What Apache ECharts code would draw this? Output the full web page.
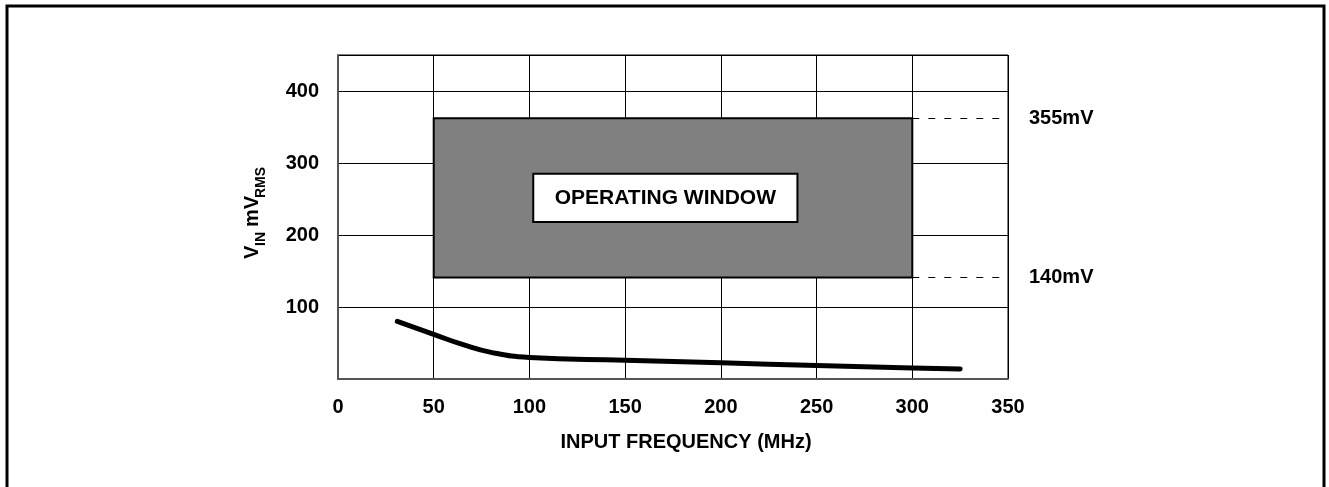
<!DOCTYPE html>
<html>
<head>
<meta charset="utf-8">
<script src="https://cdn.jsdelivr.net/npm/echarts@6/dist/echarts.min.js"></script>
<style>
html,body{margin:0;padding:0;background:#fff;}
#chart{width:1329px;height:487px;}
</style>
</head>
<body>
<div id="chart"></div>
<script>
// ---- data ----
const freqMHz = [31, 50, 65, 80, 100, 150, 200, 250, 300, 325];
const vinMv   = [80, 62, 48, 37, 30, 26.2, 22.4, 18.7, 15.4, 14];
const windowFreq = [50, 300];         // operating window, MHz
const windowVin  = [141, 362];        // operating window, mV (as drawn)
const windowLabels = ['140mV', '355mV'];
const windowTitle = 'OPERATING WINDOW';
const titleBoxFreq = [102, 240];
const titleBoxVin  = [218, 285];
const xTicks = [0, 50, 100, 150, 200, 250, 300, 350];
const yTicks = [100, 200, 300, 400];
const xMax = 350, yMax = 450;

const FONT = '"Liberation Sans", Arial, Helvetica, sans-serif';
const chart = echarts.init(document.getElementById('chart'), null, {renderer: 'canvas'});

const curve = freqMHz.map((f, i) => [f, vinMv[i]]);

const option = {
  backgroundColor: '#fff',
  animation: false,
  grid: {
    left: 338, right: 321, top: 55, bottom: 108,
    show: true, borderColor: '#000', borderWidth: 1, backgroundColor: 'transparent'
  },
  xAxis: {
    type: 'value', min: 0, max: xMax, interval: 50,
    axisLine: {show: true, lineStyle: {color: '#555', width: 2}},
    axisTick: {show: false},
    splitLine: {show: true, lineStyle: {color: '#000', width: 1}},
    axisLabel: {
      margin: 18, color: '#000', fontFamily: FONT, fontWeight: 'bold', fontSize: 20,
      formatter: v => xTicks.indexOf(v) >= 0 ? String(v) : ''
    },
    name: 'INPUT FREQUENCY (MHz)', nameLocation: 'middle', nameGap: 53,
    nameTextStyle: {color: '#000', fontFamily: FONT, fontWeight: 'bold', fontSize: 20, padding: [0, 0, 0, 26]}
  },
  yAxis: {
    type: 'value', min: 0, max: yMax, interval: 100,
    axisLine: {show: true, lineStyle: {color: '#555', width: 2}},
    axisTick: {show: false},
    splitLine: {show: true, lineStyle: {color: '#000', width: 1}},
    axisLabel: {
      margin: 19, color: '#000', fontFamily: FONT, fontWeight: 'bold', fontSize: 20,
      formatter: v => yTicks.indexOf(v) >= 0 ? String(v) : ''
    }
  },
  series: [
    {
      type: 'line', data: [], silent: true,
      markArea: {
        silent: true,
        itemStyle: {color: '#808080', borderColor: '#000', borderWidth: 2},
        data: [[{coord: [windowFreq[0], windowVin[0]]}, {coord: [windowFreq[1], windowVin[1]]}]]
      },
      markLine: {
        silent: true, symbol: ['none', 'none'],
        lineStyle: {color: '#000', width: 1, type: [7, 9]},
        label: {position: 'end', distance: 21, color: '#000', fontFamily: FONT, fontWeight: 'bold', fontSize: 20},
        data: [
          [{coord: [windowFreq[1], windowVin[1]], label: {formatter: windowLabels[1]}}, {coord: [xMax, windowVin[1]]}],
          [{coord: [windowFreq[1], windowVin[0]], label: {formatter: windowLabels[0]}}, {coord: [xMax, windowVin[0]]}]
        ]
      }
    },
    {
      type: 'line', data: [], silent: true, z: 5,
      markArea: {
        silent: true,
        itemStyle: {color: '#fff', borderColor: '#000', borderWidth: 2},
        label: {show: true, position: 'inside', formatter: windowTitle, color: '#000',
                fontFamily: FONT, fontWeight: 'bold', fontSize: 21},
        data: [[{coord: [titleBoxFreq[0], titleBoxVin[0]]}, {coord: [titleBoxFreq[1], titleBoxVin[1]]}]]
      }
    },
    {
      type: 'line', data: curve, smooth: 0.5,
      showSymbol: false, z: 6,
      lineStyle: {color: '#000', width: 5, cap: 'round', join: 'round'}
    }
  ],
  graphic: [
    {
      type: 'rect', silent: true, z: 100,
      shape: {x: 7, y: 6, width: 1317, height: 500},
      style: {fill: 'none', stroke: '#000', lineWidth: 3}
    },
    {
      type: 'group', x: 252, y: 259, rotation: Math.PI / 2, silent: true,
      children: [
        {type: 'text', x: 0, y: 0, style: {text: 'V', font: 'bold 20px ' + FONT, fill: '#000', verticalAlign: 'middle', align: 'left'}},
        {type: 'text', x: 13, y: 9, style: {text: 'IN', font: 'bold 14px ' + FONT, fill: '#000', verticalAlign: 'middle', align: 'left'}},
        {type: 'text', x: 32, y: 0, style: {text: 'mV', font: 'bold 20px ' + FONT, fill: '#000', verticalAlign: 'middle', align: 'left'}},
        {type: 'text', x: 61, y: 9, style: {text: 'RMS', font: 'bold 14px ' + FONT, fill: '#000', verticalAlign: 'middle', align: 'left'}}
      ]
    }
  ]
};
chart.setOption(option);
</script>
</body>
</html>
